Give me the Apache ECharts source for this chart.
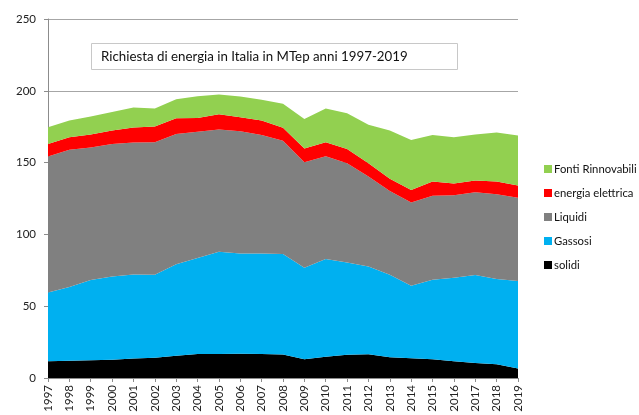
<!DOCTYPE html>
<html>
<head>
<meta charset="utf-8">
<title>Richiesta di energia in Italia</title>
<script src="https://cdn.jsdelivr.net/npm/echarts@6/dist/echarts.min.js"></script>
<style>
  html, body { margin: 0; padding: 0; background: #fff; }
  #charts { width: 639px; height: 415px; }
</style>
</head>
<body>
<div id="charts"></div>
<script>
var anni = ['1997','1998','1999','2000','2001','2002','2003','2004','2005','2006','2007','2008',
            '2009','2010','2011','2012','2013','2014','2015','2016','2017','2018','2019'];

// MTep per fonte
var solidi = [11.6,12.0,12.3,12.7,13.6,14.1,15.5,16.7,16.7,16.9,16.7,16.4,13.0,14.8,16.2,16.6,14.4,13.7,13.0,11.6,10.4,9.5,6.7];
var gassosi = [48.0,51.3,55.9,58.0,58.5,57.8,63.8,66.8,71.2,69.8,70.0,69.9,63.8,68.0,64.2,61.1,57.5,50.5,55.4,58.2,61.3,59.4,60.8];
var liquidi = [94.6,95.6,92.3,92.3,91.9,92.3,90.7,87.9,85.1,85.2,82.6,79.0,73.5,71.7,69.2,62.6,58.4,58.0,58.5,57.5,57.7,59.1,58.0];
var elettrica = [8.8,8.8,9.0,9.3,10.4,10.9,10.9,9.7,10.7,9.7,10.0,8.9,9.5,9.7,9.8,9.3,8.4,8.8,9.9,8.1,8.1,8.8,8.5];
var rinnovabili = [11.7,11.6,12.6,13.0,13.9,12.5,13.2,15.1,13.7,14.4,14.4,16.7,20.6,23.4,25.0,26.7,33.6,34.8,32.5,32.3,32.0,34.1,34.8];

var yTicks = [0, 50, 100, 150, 200, 250];

var font = 'Lato, "Noto Sans", sans-serif';

function area(name, data, color) {
	return {
		name: name,
		type: 'line',
		stack: 'tot',
		data: data,
		symbol: 'none',
		lineStyle: {width: 0},
		areaStyle: {color: color, opacity: 1},
		itemStyle: {color: color},
		emphasis: {disabled: true}
	};
}

var echart = echarts.init(document.getElementById('charts'));
var options = {
	animation: false,
	textStyle: {fontFamily: font},
	title: {
		text: 'Richiesta di energia in Italia in MTep anni 1997-2019',
		left: 91,
		top: 43,
		padding: [7, 50, 7, 10],
		borderColor: '#c8c8c8',
		borderWidth: 1,
		backgroundColor: '#fff',
		textStyle: {fontFamily: font, fontSize: 13.3, fontWeight: 'normal', color: '#111'}
	},
	legend: {
		orient: 'vertical',
		left: 539,
		top: 157,
		itemWidth: 8,
		itemHeight: 8,
		itemGap: 10,
		icon: 'rect',
		data: ['Fonti Rinnovabili', 'energia elettrica', 'Liquidi', 'Gassosi', 'solidi'],
		textStyle: {fontFamily: font, fontSize: 11.3, color: '#111', lineHeight: 14, padding: [0, 0, 0, -3]}
	},
	grid: {left: 48, right: 121, top: 19, bottom: 37, containLabel: false},
	xAxis: {
		type: 'category',
		boundaryGap: false,
		data: anni,
		axisLine: {lineStyle: {color: '#8c8c8c'}},
		axisTick: {show: true, length: 4, lineStyle: {color: '#8c8c8c'}},
		axisLabel: {rotate: 90, interval: 0, margin: 7, fontSize: 11.5, color: '#222', fontFamily: font},
		splitLine: {show: false}
	},
	yAxis: {
		type: 'value',
		min: yTicks[0],
		max: yTicks[yTicks.length - 1],
		interval: 50,
		axisLine: {show: true, lineStyle: {color: '#8c8c8c'}},
		axisTick: {show: true, length: 4, lineStyle: {color: '#8c8c8c'}},
		axisLabel: {margin: 12, fontSize: 11.5, color: '#222', fontFamily: font},
		splitLine: {lineStyle: {color: '#a6a6a6', width: 1}}
	},
	series: [
		area('solidi', solidi, '#000000'),
		area('Gassosi', gassosi, '#00b0f0'),
		area('Liquidi', liquidi, '#808080'),
		area('energia elettrica', elettrica, '#ff0000'),
		area('Fonti Rinnovabili', rinnovabili, '#92d050')
	]
};
echart.setOption(options);
</script>
</body>
</html>
